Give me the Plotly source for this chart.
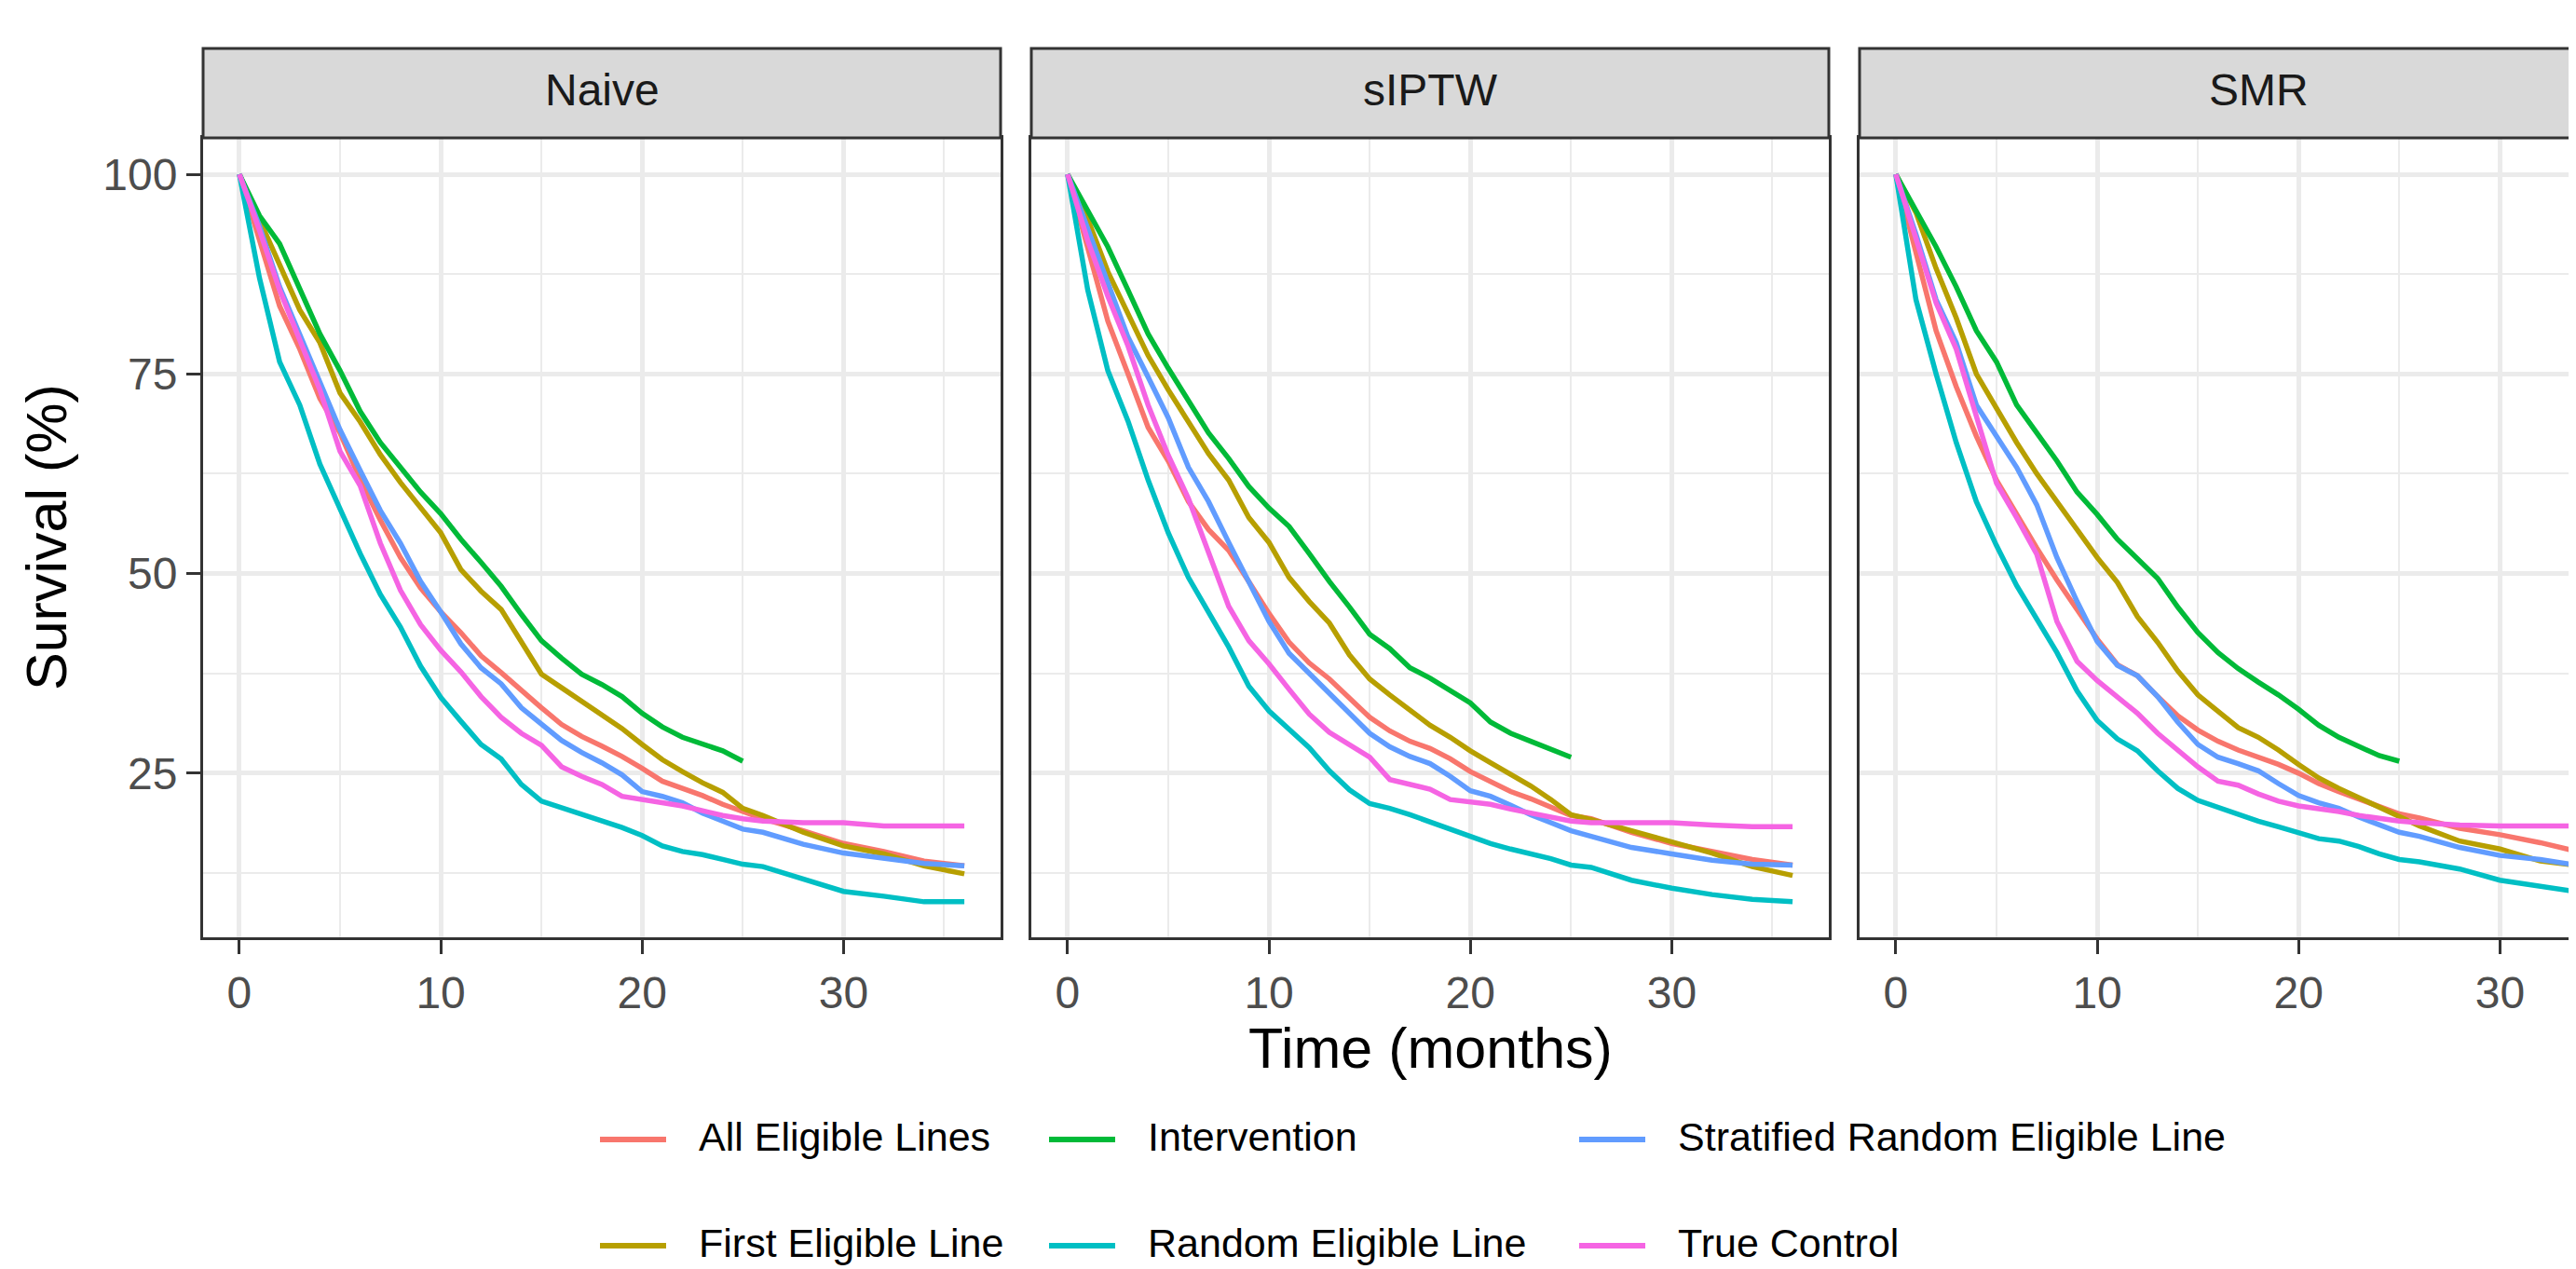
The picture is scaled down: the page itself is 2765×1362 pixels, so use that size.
import plotly.graph_objects as go

months = list(range(0, 27)) + [28, 30, 32, 34, 36]

methods = ["Naive", "sIPTW", "SMR"]
groups = ["All Eligible Lines", "First Eligible Line", "Intervention",
          "Random Eligible Line", "Stratified Random Eligible Line", "True Control"]
group_colors = ["#F8766D", "#B79F00", "#00BA38", "#00BFC4", "#619CFF", "#F564E3"]

# Naive
naive_all = [100, 91.5, 83.5, 78.1, 71.9, 67.6, 61.8, 56.7, 52.0, 48.2, 45.2, 42.6, 39.7, 37.6, 35.3, 33.2,
             31.1, 29.6, 28.4, 27.1, 25.6, 24.0, 23.1, 22.2, 21.1, 20.2, 19.3, 17.8, 16.2, 15.2, 14.0, 13.4]
naive_first = [100, 94.4, 88.7, 83.0, 78.9, 72.6, 69.0, 64.9, 61.4, 58.2, 55.1, 50.5, 47.8, 45.5, 41.3, 37.4,
               35.7, 34.0, 32.3, 30.6, 28.6, 26.7, 25.2, 23.8, 22.6, 20.6, 19.7, 17.6, 15.9, 14.9, 13.4, 12.4]
naive_interv = [100, 94.8, 91.3, 85.5, 80.0, 75.4, 70.3, 66.4, 63.3, 60.2, 57.5, 54.3, 51.4, 48.4, 44.9, 41.6,
                39.4, 37.4, 36.1, 34.6, 32.5, 30.8, 29.5, 28.7, 27.8, 26.5]
naive_random = [100, 87.0, 76.5, 71.1, 63.7, 57.9, 52.5, 47.4, 43.3, 38.4, 34.5, 31.5, 28.6, 26.8, 23.6, 21.5,
                20.7, 19.8, 19.0, 18.2, 17.2, 15.9, 15.2, 14.8, 14.2, 13.6, 13.3, 11.7, 10.2, 9.6, 8.9, 8.9]
naive_strat = [100, 93.5, 85.9, 80.0, 74.2, 68.0, 62.9, 57.9, 53.8, 49.0, 45.2, 41.2, 38.2, 36.2, 33.2, 31.2,
               29.1, 27.6, 26.3, 24.8, 22.7, 22.1, 21.3, 20.0, 19.0, 18.0, 17.6, 16.1, 15.0, 14.3, 13.7, 13.4]
naive_true = [100, 93.0, 85.5, 79.3, 73.0, 65.3, 61.0, 53.8, 47.9, 43.6, 40.4, 37.7, 34.6, 32.0, 30.0, 28.5,
              25.8, 24.6, 23.6, 22.1, 21.7, 21.3, 20.9, 20.3, 19.7, 19.3, 19.0, 18.8, 18.8, 18.4, 18.4, 18.4]

# sIPTW
siptw_all = [100, 90.9, 81.6, 75.0, 68.3, 64.1, 59.0, 55.5, 52.9, 49.0, 45.0, 41.4, 38.8, 36.8, 34.5, 32.0,
             30.3, 29.0, 28.1, 26.8, 25.2, 23.9, 22.7, 21.8, 20.8, 19.7, 19.3, 17.6, 16.2, 15.2, 14.2, 13.5]
siptw_first = [100, 94.4, 87.8, 82.4, 77.3, 73.0, 68.9, 65.0, 61.7, 57.0, 53.9, 49.5, 46.5, 43.8, 39.8, 36.8,
               34.8, 32.8, 31.0, 29.5, 27.8, 26.3, 24.9, 23.4, 21.7, 19.8, 19.2, 17.8, 16.3, 15.0, 13.3, 12.2]
siptw_interv = [100, 95.6, 90.9, 85.5, 80.0, 75.7, 71.5, 67.6, 64.4, 60.9, 58.2, 55.9, 52.5, 49.0, 45.8, 42.4,
                40.6, 38.2, 36.9, 35.4, 33.8, 31.4, 30.0, 29.0, 28.0, 27.0]
siptw_random = [100, 85.5, 75.4, 69.1, 61.7, 55.1, 49.5, 45.2, 40.8, 35.9, 32.8, 30.5, 28.2, 25.3, 22.9, 21.2,
                20.6, 19.8, 18.9, 17.9, 17.0, 16.2, 15.5, 14.9, 14.3, 13.5, 13.2, 11.6, 10.6, 9.8, 9.2, 8.9]
siptw_strat = [100, 93.3, 86.3, 79.6, 74.6, 69.5, 63.3, 59.0, 53.9, 48.8, 44.0, 40.0, 37.5, 35.0, 32.5, 30.0,
               28.3, 27.1, 26.2, 24.6, 22.8, 22.1, 21.0, 19.8, 18.8, 17.8, 17.1, 15.7, 14.9, 14.1, 13.6, 13.5]
siptw_true = [100, 91.7, 84.7, 78.5, 71.1, 64.8, 59.4, 52.5, 45.9, 41.6, 38.7, 35.5, 32.4, 30.1, 28.6, 27.0,
              24.2, 23.6, 23.0, 21.7, 21.4, 21.1, 20.5, 20.0, 19.5, 19.0, 18.8, 18.8, 18.8, 18.5, 18.3, 18.3]

# SMR
smr_all = [100, 90.5, 80.4, 73.4, 67.2, 61.7, 57.4, 53.2, 49.2, 45.6, 41.8, 38.6, 37.2, 34.6, 32.2, 30.4,
           29.0, 27.9, 27.0, 26.1, 25.0, 23.7, 22.7, 21.8, 20.8, 19.9, 19.4, 18.1, 17.3, 16.3, 15.1, 14.5]
smr_first = [100, 95.2, 88.2, 82.0, 75.0, 70.7, 66.4, 62.5, 59.0, 55.5, 52.0, 48.9, 44.6, 41.4, 37.8, 34.8,
             32.8, 30.7, 29.5, 27.9, 26.1, 24.4, 23.1, 21.9, 20.7, 19.5, 18.4, 16.5, 15.5, 14.0, 13.4, 12.5]
smr_interv = [100, 95.6, 90.9, 85.9, 80.4, 76.5, 71.1, 67.6, 64.1, 60.2, 57.4, 54.3, 51.9, 49.4, 45.8, 42.6,
              40.1, 38.1, 36.4, 34.8, 33.0, 31.0, 29.5, 28.3, 27.2, 26.5]
smr_random = [100, 84.3, 75.0, 66.4, 59.0, 53.5, 48.5, 44.2, 40.1, 35.3, 31.6, 29.3, 27.8, 25.3, 23.1, 21.6,
              20.7, 19.9, 19.0, 18.3, 17.5, 16.8, 16.5, 15.8, 14.9, 14.2, 13.9, 13.0, 11.6, 10.8, 10.1, 9.5]
smr_strat = [100, 92.5, 84.3, 78.9, 71.1, 67.2, 63.3, 58.6, 52.0, 46.5, 41.5, 38.5, 37.2, 34.6, 31.4, 28.6,
             27.0, 26.2, 25.3, 23.7, 22.2, 21.3, 20.6, 19.5, 18.5, 17.6, 17.1, 15.7, 14.7, 14.2, 13.4, 13.0]
smr_true = [100, 91.7, 83.9, 78.1, 69.5, 61.3, 57.0, 52.4, 44.0, 39.0, 36.6, 34.6, 32.5, 30.0, 27.8, 25.8,
            24.0, 23.5, 22.4, 21.5, 20.9, 20.6, 20.2, 19.7, 19.3, 19.0, 18.8, 18.5, 18.4, 18.4, 18.4, 18.4]

survival = {
    "Naive": [naive_all, naive_first, naive_interv, naive_random, naive_strat, naive_true],
    "sIPTW": [siptw_all, siptw_first, siptw_interv, siptw_random, siptw_strat, siptw_true],
    "SMR": [smr_all, smr_first, smr_interv, smr_random, smr_strat, smr_true],
}

x_ticks = [0, 10, 20, 30]
x_minor = [5, 15, 25, 35]
y_ticks = [25, 50, 75, 100]
y_minor = [12.5, 37.5, 62.5, 87.5]

# page geometry (pixels); the right facet runs past the edge of the picture
W, H = 2765, 1362
panel_px = [(210, 1066), (1099, 1955), (1988, 2844)]
top_px, bottom_px, strip_top_px = 140, 998, 44
x_lo, x_hi = -1.8, 37.8
y_lo, y_hi = 4.45, 104.55

FONT = "Liberation Sans, Arial, sans-serif"
DARK = "#333333"
GRID = "#EBEBEB"


def px(x):
    return x / W


def py(y):
    return 1 - y / H


fig = go.Figure()
shapes = []
annotations = []

for k, method in enumerate(methods):
    sfx = "" if k == 0 else str(k + 1)
    for name, color, vals in zip(groups, group_colors, survival[method]):
        fig.add_trace(go.Scatter(
            x=months[:len(vals)], y=vals, mode="lines", name=name,
            line=dict(color=color, width=5.5), showlegend=False,
            xaxis="x" + sfx, yaxis="y" + sfx,
        ))

    p0, p1 = panel_px[k]
    hi = x_hi if p1 <= W else x_lo + (x_hi - x_lo) * (W - p0) / (p1 - p0)
    fig.update_layout({
        "xaxis" + sfx: dict(
            domain=[px(p0), min(1.0, px(p1))], range=[x_lo, hi], anchor="y" + sfx,
            tickvals=x_ticks, ticks="outside", ticklen=15, tickwidth=3, tickcolor=DARK,
            tickfont=dict(family=FONT, size=48, color="#4D4D4D"),
            showline=True, linecolor=DARK, linewidth=3, mirror=True,
            showgrid=True, gridcolor=GRID, gridwidth=4.5, zeroline=False,
            minor=dict(tickvals=x_minor, showgrid=True, gridcolor=GRID, gridwidth=2.3),
        ),
        "yaxis" + sfx: dict(
            domain=[py(bottom_px), py(top_px)], range=[y_lo, y_hi], anchor="x" + sfx,
            tickvals=y_ticks, ticks="outside" if k == 0 else "", ticklen=15, tickwidth=3,
            tickcolor=DARK, showticklabels=(k == 0),
            tickfont=dict(family=FONT, size=48, color="#4D4D4D"),
            showline=True, linecolor=DARK, linewidth=3, mirror=(p1 <= W),
            showgrid=True, gridcolor=GRID, gridwidth=4.5, zeroline=False,
            minor=dict(tickvals=y_minor, showgrid=True, gridcolor=GRID, gridwidth=2.3),
        ),
    })

    # facet strip
    shapes.append(dict(type="rect", xref="paper", yref="paper",
                       x0=px(p0), x1=px(p1), y0=py(top_px), y1=py(strip_top_px),
                       fillcolor="#D9D9D9", line=dict(color=DARK, width=3), layer="above"))
    annotations.append(dict(text=method, xref="paper", yref="paper",
                            x=px((p0 + p1) / 2), y=py((top_px + strip_top_px) / 2 - 3),
                            showarrow=False, xanchor="center", yanchor="middle",
                            font=dict(family=FONT, size=48, color="#1A1A1A")))

# axis titles
annotations.append(dict(text="Time (months)", xref="paper", yref="paper",
                        x=px((panel_px[0][0] + panel_px[2][1]) / 2), y=py(1117),
                        showarrow=False, xanchor="center", yanchor="middle",
                        borderpad=0,
                        font=dict(family=FONT, size=61, color="black")))
annotations.append(dict(text="Survival (%)", xref="paper", yref="paper",
                        x=px(42), y=py((top_px + bottom_px) / 2), textangle=-90,
                        showarrow=False, xanchor="center", yanchor="middle",
                        font=dict(family=FONT, size=61, color="black")))

# legend below the panels: 3 columns x 2 rows, filled column by column
legend_cols = [636, 1118, 1687]
legend_rows = [1212, 1326]
key_len, text_gap = 71, 104
for i, (name, color) in enumerate(zip(groups, group_colors)):
    cx, ry = legend_cols[i // 2], legend_rows[i % 2]
    shapes.append(dict(type="line", xref="paper", yref="paper",
                       x0=px(cx), x1=px(cx + key_len), y0=py(ry + 3), y1=py(ry + 3),
                       line=dict(color=color, width=6)))
    annotations.append(dict(text=name, xref="paper", yref="paper",
                            x=px(cx + text_gap), y=py(ry), showarrow=False,
                            xanchor="left", yanchor="middle",
                            font=dict(family=FONT, size=43, color="black")))

fig.update_layout(
    width=W, height=H,
    margin=dict(l=0, r=0, t=0, b=0),
    paper_bgcolor="white", plot_bgcolor="white",
    shapes=shapes, annotations=annotations,
    showlegend=False,
)

fig.write_html("out.html")
